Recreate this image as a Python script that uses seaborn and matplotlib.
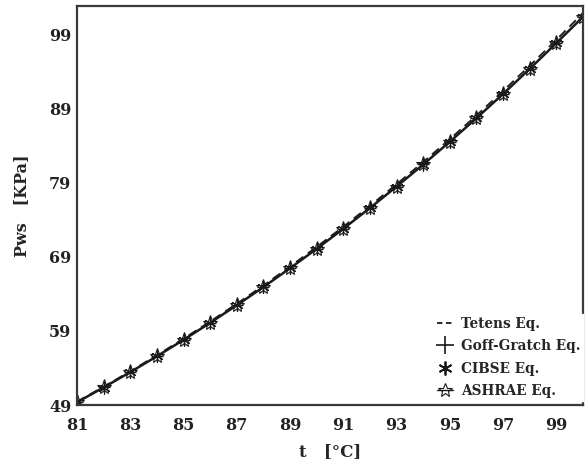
import matplotlib
matplotlib.use("Agg")
import matplotlib.pyplot as plt
import seaborn as sns
import pandas as pd
from matplotlib.lines import Line2D

t = [81, 82, 83, 84, 85, 86, 87, 88, 89, 90, 91, 92, 93, 94, 95, 96, 97, 98, 99, 100]
tetens = [49.45, 51.47, 53.56, 55.72, 57.96, 60.28, 62.68, 65.15, 67.71, 70.36,
          73.09, 75.91, 78.82, 81.83, 84.92, 88.12, 91.43, 94.84, 98.34, 101.95]
goff_gratch = [49.37, 51.37, 53.44, 55.58, 57.80, 60.10, 62.48, 64.93, 67.47, 70.10,
               72.81, 75.61, 78.50, 81.49, 84.56, 87.74, 91.02, 94.40, 97.89, 101.42]
cibse = [49.35, 51.35, 53.42, 55.56, 57.78, 60.08, 62.46, 64.92, 67.46, 70.09,
         72.80, 75.60, 78.49, 81.48, 84.56, 87.74, 91.02, 94.41, 97.90, 101.44]
ashrae = [49.37, 51.37, 53.44, 55.58, 57.80, 60.10, 62.48, 64.93, 67.48, 70.10,
          72.81, 75.61, 78.51, 81.49, 84.57, 87.75, 91.03, 94.41, 97.90, 101.43]
labels = ["Tetens Eq.", "Goff-Gratch Eq.", "CIBSE Eq.", "ASHRAE Eq."]
xticks = [81, 83, 85, 87, 89, 91, 93, 95, 97, 99]
yticks = [49, 59, 69, 79, 89, 99]

sns.set_style("white")
plt.rcParams["font.family"] = ["DejaVu Serif"]
plt.rcParams["font.weight"] = "bold"

df = pd.DataFrame({"t": t, "tetens": tetens, "goff": goff_gratch,
                   "cibse": cibse, "ashrae": ashrae})

fig = plt.figure(figsize=(5.87, 4.67), dpi=100)
ax = fig.add_axes([77/587, 62/467, 506/587, 399/467])

col = "#1a1a1a"
sns.lineplot(data=df, x="t", y="tetens", ax=ax, color=col, lw=1.3,
             linestyle=(0, (5, 3)), legend=False)
sns.lineplot(data=df, x="t", y="ashrae", ax=ax, color=col, lw=1.8,
             marker="*", markersize=11, markerfacecolor="none",
             markeredgecolor=col, markeredgewidth=0.8, legend=False)
sns.scatterplot(data=df, x="t", y="goff", ax=ax, marker="+", s=80,
                color=col, linewidth=1.0, legend=False)
sns.scatterplot(data=df, x="t", y="cibse", ax=ax, marker=(6, 2, 0), s=70,
                color=col, linewidth=0.8, legend=False)

ax.set_xlim(81, 100)
ax.set_ylim(49, 102.9)
ax.set_xticks(xticks)
ax.set_yticks(yticks)
ax.set_xticklabels([str(v) for v in xticks], fontsize=11.5, fontweight="bold")
ax.set_yticklabels([str(v) for v in yticks], fontsize=11.5, fontweight="bold")
ax.tick_params(axis="x", length=0, pad=9, colors="#222222")
ax.tick_params(axis="y", length=0, pad=4, colors="#222222")
for s in ax.spines.values():
    s.set_visible(True)
    s.set_color("#3a3a3a")
    s.set_linewidth(1.6)

ax.set_xlabel("t   [°C]", fontsize=12, fontweight="bold", labelpad=6)
ax.set_ylabel("Pws   [KPa]", fontsize=11.5, fontweight="bold", labelpad=14)

handles = [
    Line2D([], [], color=col, lw=1.3, linestyle=(0, (3, 2))),
    Line2D([], [], color=col, lw=0, marker="+", markersize=13, markeredgewidth=1.2),
    Line2D([], [], color=col, lw=0, marker=(6, 2, 0), markersize=10, markeredgewidth=1.3),
    Line2D([], [], color=col, lw=1.0, marker="*", markersize=10,
           markerfacecolor="none", markeredgewidth=0.8),
]
leg = fig.legend(handles, labels, loc="upper left",
                 bbox_to_anchor=(434/587, 1 - 314/467),
                 frameon=True, fancybox=False, framealpha=1.0,
                 edgecolor="white", facecolor="white",
                 prop={"family": "DejaVu Serif", "weight": "bold", "size": 9.8},
                 handlelength=1.2, handletextpad=0.6, labelspacing=0.62,
                 borderpad=0.2, borderaxespad=0)
fig.savefig("out.png", dpi=100)
